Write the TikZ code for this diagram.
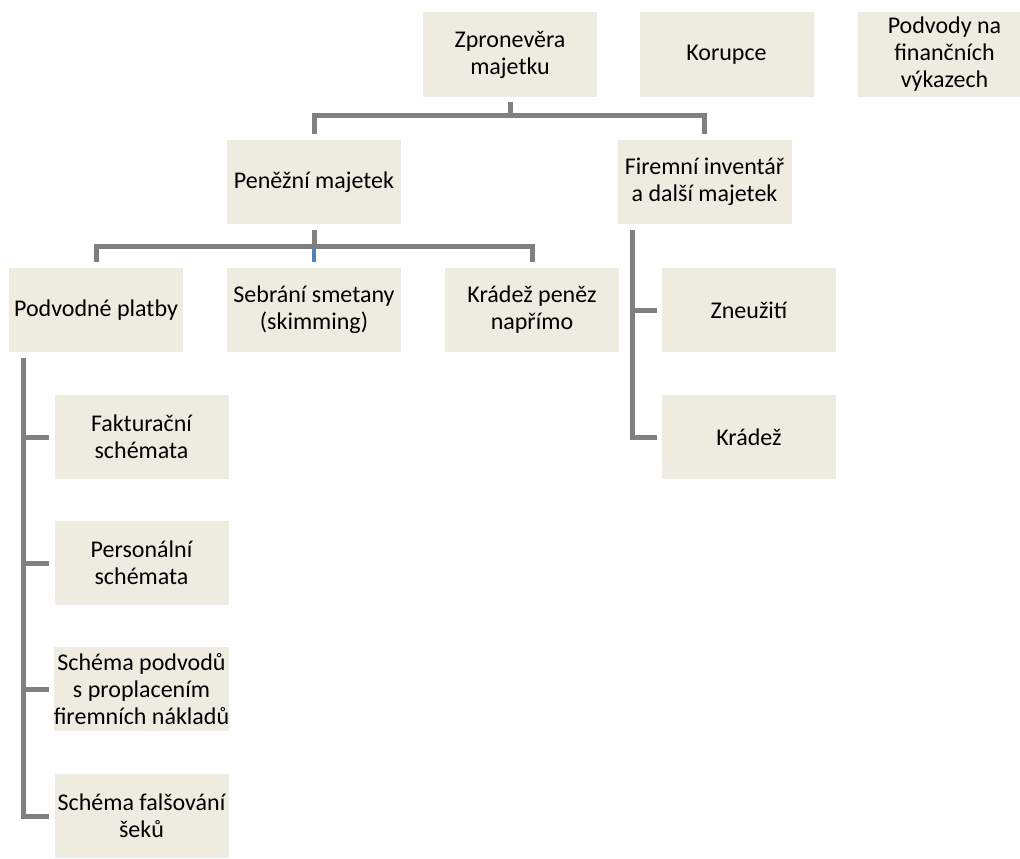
\documentclass[tikz,border=0pt]{standalone}
\usepackage{fontspec}
\setmainfont{Carlito}
\definecolor{boxfill}{HTML}{EEECE1}
\definecolor{conngray}{HTML}{808080}
\definecolor{connblue}{HTML}{4F81BD}
\begin{document}
\begin{tikzpicture}[x=1pt,y=-1pt,
  box/.style={fill=boxfill, draw=none, minimum width=174pt, minimum height=84pt, inner sep=0pt, align=center,
    font=\fontsize{24}{27}\selectfont},
  conn/.style={draw=conngray, line width=5pt, line join=miter},
  connb/.style={draw=connblue, line width=4pt}]
\useasboundingbox (0,0) rectangle (1020,859);
% top row
\node[box] (zp) at (510,54.5) {Zpronevěra\\majetku};
\node[box] (ko) at (726.5,54.5) {Korupce};
\node[box] (pv) at (944.5,54.5) {Podvody na\\finančních\\výkazech};
% level 2
\node[box] (pm) at (314,182) {Peněžní majetek};
\node[box] (fi) at (704.5,182) {Firemní inventář\\a další majetek};
% level 3
\node[box] (pp) at (96,310) {Podvodné platby};
\node[box] (sb) at (314,310) {Sebrání smetany\\(skimming)};
\node[box] (kp) at (532,310) {Krádež peněz\\napřímo};
\node[box] (zn) at (749,310) {Zneužití};
% level 4
\node[box] (fk) at (141.5,437) {Fakturační\\schémata};
\node[box] (ps) at (141.5,563) {Personální\\schémata};
\node[box] (sp) at (141.5,689) {Schéma podvodů\\s proplacením\\firemních nákladů};
\node[box] (fs) at (141.5,816) {Schéma falšování\\šeků};
\node[box] (kr) at (749,437) {Krádež};
% connectors top
\draw[conn] ([yshift=-5pt]zp.south) -- ([yshift=-19pt]zp.south);
\draw[conn] ([yshift=6pt]pm.north) |- ([yshift=-19pt]zp.south) -| ([yshift=6pt]fi.north);
% connectors level 2
\draw[connb] ([yshift=-22pt]pm.south) -- ([yshift=6pt]sb.north);
\draw[conn] ([yshift=-6pt]pm.south) -- ([yshift=-22pt]pm.south);
\draw[conn] ([yshift=6pt]pp.north) |- ([yshift=-22pt]pm.south) -| ([yshift=6pt]kp.north);
% Podvodne platby branch
\coordinate (ppl) at ([xshift=15pt,yshift=-6pt]pp.south west);
\draw[conn] (ppl) |- ([xshift=-5pt]fs.west);
\draw[conn] (ppl |- fk.west) -- ([xshift=-5pt]fk.west);
\draw[conn] (ppl |- ps.west) -- ([xshift=-5pt]ps.west);
\draw[conn] (ppl |- sp.west) -- ([xshift=-5pt]sp.west);
% Firemni branch
\coordinate (fil) at ([xshift=15pt,yshift=-6pt]fi.south west);
\draw[conn] (fil) |- ([xshift=-5pt]kr.west);
\draw[conn] (fil |- zn.west) -- ([xshift=-5pt]zn.west);
\end{tikzpicture}
\end{document}
